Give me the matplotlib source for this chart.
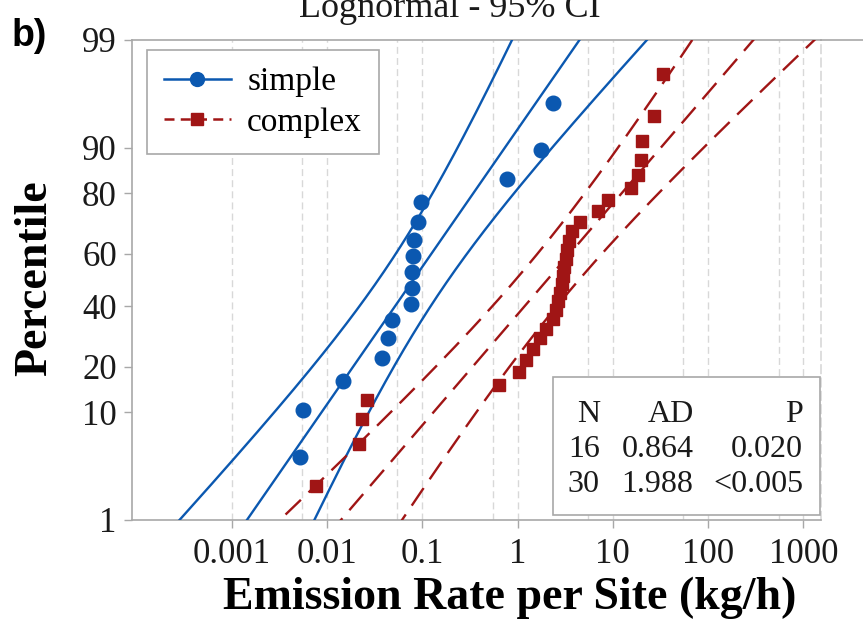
import numpy as np
import matplotlib
matplotlib.use('Agg')
import matplotlib.pyplot as plt
from matplotlib.lines import Line2D
from matplotlib.patches import Rectangle
from matplotlib.ticker import FixedLocator, NullFormatter
from statistics import NormalDist

plt.rcParams['font.family'] = ['Liberation Serif', 'DejaVu Serif']

ppf = np.vectorize(NormalDist().inv_cdf)   # probit scale for the y axis

# emission rate per site (kg/h) and plotted percentile (median ranks)
simple_rate = [0.0052, 0.0056, 0.0148, 0.038, 0.044, 0.0485, 0.0757, 0.0776,
               0.079, 0.0806, 0.0825, 0.091, 0.0964, 0.776, 1.77, 2.34]
simple_pct = [4.27, 10.37, 16.46, 22.56, 28.66, 34.76, 40.85, 46.95,
              53.05, 59.15, 65.24, 71.34, 77.44, 83.54, 89.63, 95.73]

complex_rate = [0.0077, 0.0217, 0.0235, 0.0261, 0.644, 1.04, 1.23, 1.45, 1.72, 1.99,
                2.36, 2.54, 2.66, 2.79, 2.90, 3.00, 3.11, 3.23, 3.31, 3.47,
                3.73, 4.53, 7.0, 8.9, 15.7, 18.4, 20.0, 20.5, 27.1, 33.7]
complex_pct = [2.30, 5.59, 8.88, 12.17, 15.46, 18.75, 22.04, 25.33, 28.62, 31.91,
               35.20, 38.49, 41.78, 45.07, 48.36, 51.64, 54.93, 58.22, 61.51, 64.80,
               68.09, 71.38, 74.67, 77.96, 81.25, 84.54, 87.83, 91.12, 94.41, 97.70]

pct_ticks = [1, 10, 20, 40, 60, 80, 90, 99]
rate_ticks = [0.001, 0.01, 0.1, 1, 10, 100, 1000]
rate_labels = ['0.001', '0.01', '0.1', '1', '10', '100', '1000']

stat_n = ['16', '30']
stat_ad = ['0.864', '1.988']
stat_p = ['0.020', '<0.005']

BLUE = '#0b58b0'; RED = '#a01515'; GRAY = '#a8a8a8'; GRID = '#d8d8d8'
DASH = (0, (9, 4.5))

fig = plt.figure(figsize=(8.63, 6.2), dpi=100)
ax = fig.add_axes([0.153, 0.1613, 0.7984, 0.7742])

# lognormal fit (log10 mean / sd) with 95% CI on the percentiles
zz = np.linspace(-2.7, 2.7, 300)
for rate, pct, col, ls, mk, ms in [(simple_rate, simple_pct, BLUE, '-', 'o', 10.5),
                                   (complex_rate, complex_pct, RED, DASH, 's', 9)]:
    lg = np.log10(rate); n = len(lg)
    m, s = lg.mean(), lg.std(ddof=1)
    half = 1.96*s*np.sqrt(1.0/n + zz**2/(2.0*n))
    for k in (-1, 0, 1):
        ax.plot(10**(m + zz*s + k*half), zz, color=col, ls=ls, lw=1.7, zorder=3)
    ax.plot(rate, ppf(np.array(pct)/100.0), ls='none', marker=mk, ms=ms,
            color=col, zorder=4)

ax.set_xscale('log')
ax.set_xlim(9e-5, 1535)
ax.set_ylim(ppf(0.01), ppf(0.99))
ax.set_xticks(rate_ticks); ax.set_xticklabels(rate_labels)
ax.xaxis.set_minor_locator(FixedLocator([5.5*t for t in rate_ticks[:-1]]))
ax.xaxis.set_minor_formatter(NullFormatter())
ax.set_yticks(ppf(np.array(pct_ticks)/100.0))
ax.set_yticklabels([str(p) for p in pct_ticks])

ax.set_axisbelow(True)
ax.grid(True, which='both', axis='x', color=GRID, ls=(0, (5, 3)), lw=1.0)
ax.tick_params(which='major', labelsize=25, color=GRAY, labelcolor='#1a1a1a',
               length=6, width=1.0, pad=5)
ax.tick_params(axis='x', which='major', pad=7)
ax.tick_params(which='minor', length=0)
for sp in ax.spines.values():
    sp.set_color(GRAY); sp.set_linewidth(1.2)
ax.spines['right'].set_color(GRID); ax.spines['right'].set_linestyle((0, (5, 3)))
fig.add_artist(Line2D([0.951, 1.0], [1 - 40/620]*2, color=GRAY, lw=1.2,
                      transform=fig.transFigure))

handles = [Line2D([], [], color=BLUE, lw=1.8, marker='o', ms=10, label='simple'),
           Line2D([], [], color=RED, lw=1.8, ls=(0, (4, 2.5)), marker='s', ms=9,
                  label='complex')]
leg = ax.legend(handles=handles, loc='upper left', bbox_to_anchor=(0.022, 0.979),
                borderaxespad=0, fontsize=24, fancybox=False, edgecolor=GRAY,
                handlelength=2.0, handletextpad=0.5, borderpad=0.5,
                labelspacing=0.3, numpoints=1, framealpha=1)
leg.get_frame().set_linewidth(1.2)

# Anderson-Darling box
ax.add_patch(Rectangle((0.611, 0.0104), 0.3875, 0.288, transform=ax.transAxes,
                       facecolor='white', edgecolor=GRAY, lw=1.2, zorder=5))
rows_y = [0.219, 0.146, 0.073]
for xr, head, col in [(0.679, 'N', stat_n), (0.815, 'AD', stat_ad), (0.974, 'P', stat_p)]:
    for y, t in zip(rows_y, [head] + col):
        ax.text(xr, y, t, transform=ax.transAxes, ha='right', va='center',
                fontsize=23, color='#1a1a1a', zorder=6)

fig.text(35/863, 1 - 278/620, 'Percentile', rotation=90, ha='center', va='center',
         fontsize=33, fontweight='bold')
fig.text(510/863, 1 - 598/620, 'Emission Rate per Site (kg/h)', ha='center',
         va='center', fontsize=33, fontweight='bold')
fig.text(450/863, 1 - 17/620, 'Lognormal - 95% CI', ha='center', va='baseline',
         fontsize=26, color='#1a1a1a')
fig.text(12/863, 1 - 46/620, 'b)', family=['Liberation Sans', 'DejaVu Sans'],
         fontweight='bold', fontsize=27, va='baseline')

fig.savefig('out.png', dpi=100)
